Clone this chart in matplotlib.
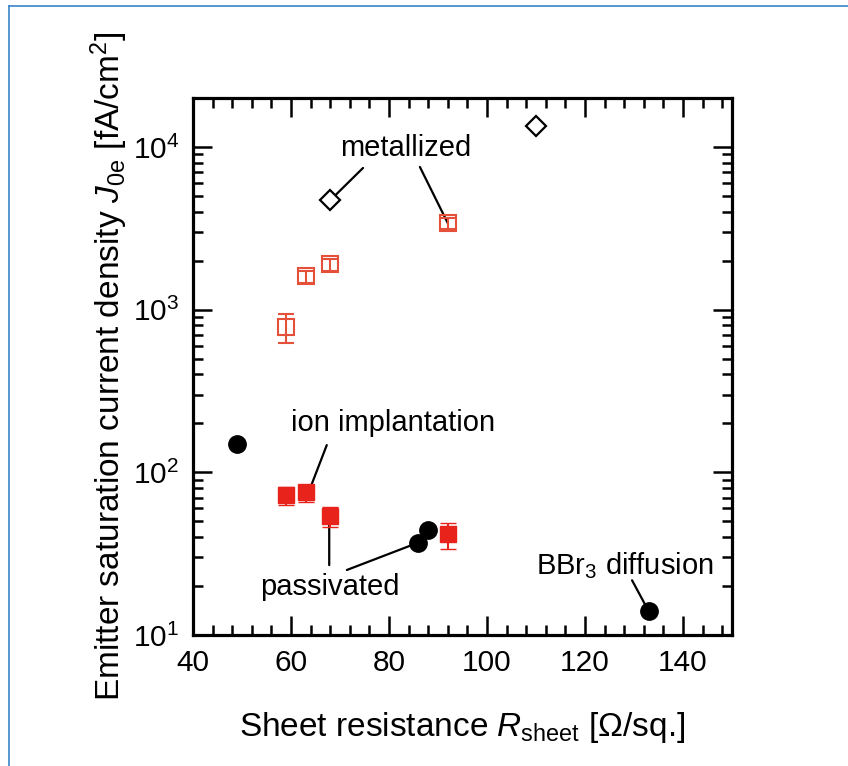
import matplotlib
matplotlib.use("Agg")
import matplotlib.pyplot as plt
from matplotlib.lines import Line2D
from matplotlib.ticker import FixedLocator, MultipleLocator, LogLocator, NullFormatter

plt.rcParams['font.family'] = ['Liberation Sans', 'DejaVu Sans']
plt.rcParams['mathtext.fontset'] = 'custom'
plt.rcParams['mathtext.rm'] = 'Liberation Sans'
plt.rcParams['mathtext.it'] = 'Liberation Sans:italic'
plt.rcParams['mathtext.bf'] = 'Liberation Sans:bold'

# ---- data ----
# BBr3 diffusion (black filled circles), passivated
bbr3_x = [49, 86, 88, 133]
bbr3_y = [150, 37, 44, 14]

# ion implantation, passivated (red filled squares)
imp_pass_x = [59, 63, 68, 92]
imp_pass_y = [73, 76, 54, 42]
imp_pass_err_lo = [10, 10, 8, 8]
imp_pass_err_hi = [8, 6, 7, 7]

# ion implantation, metallized (red open squares)
imp_met_x = [59, 63, 68, 92]
imp_met_y = [780, 1600, 1900, 3400]
imp_met_err_lo = [160, 140, 160, 280]
imp_met_err_hi = [165, 140, 160, 280]

# BBr3 diffusion, metallized (black open diamonds)
bbr3_met_x = [68, 110]
bbr3_met_y = [4700, 13500]

x_ticks = [40, 60, 80, 100, 120, 140]
y_ticks = [10, 100, 1000, 10000]
y_ticklabels = ['$10^1$', '$10^2$', '$10^3$', '$10^4$']

RED = '#e8231c'
RED_OPEN = '#e4503a'

fig = plt.figure(figsize=(8.48, 7.66), dpi=100)
ax = fig.add_axes([193/848, 1-635/766, (732-193)/848, (635-98)/766])

ax.set_xscale('linear')
ax.set_yscale('log')
ax.set_xlim(40, 150)
ax.set_ylim(10, 2e4)

# annotation lines (drawn under markers)
def line(p_from, p_to):
    ax.annotate('', xy=p_to, xytext=p_from,
                arrowprops=dict(arrowstyle='-', color='black', lw=1.6,
                                shrinkA=0, shrinkB=0), zorder=1)

line((74.7, 7430), (bbr3_met_x[0], bbr3_met_y[0]))
line((86.3, 7540), (imp_met_x[3], imp_met_y[3]))
line((67.3, 147), (imp_pass_x[1] + 0.8, imp_pass_y[1] * 1.03))
line((67.8, 26.9), (imp_pass_x[2] - 0.2, imp_pass_y[2]))
line((71.4, 25.1), (bbr3_x[1], bbr3_y[1]))
line((129.6, 21.7), (bbr3_x[3], bbr3_y[3]))

# data
ax.errorbar(imp_met_x, imp_met_y, yerr=[imp_met_err_lo, imp_met_err_hi],
            fmt='s', ms=11.5, mfc='none', mec=RED_OPEN, mew=1.5,
            ecolor=RED_OPEN, elinewidth=1.5, capsize=6, capthick=1.5, zorder=3)
ax.errorbar(imp_pass_x, imp_pass_y, yerr=[imp_pass_err_lo, imp_pass_err_hi],
            fmt='s', ms=11.5, mfc=RED, mec=RED, mew=1.0,
            ecolor=RED, elinewidth=1.5, capsize=6, capthick=1.5, zorder=3)
ax.plot(bbr3_x, bbr3_y, 'o', ms=12.5, color='black', ls='none', zorder=4)
ax.plot(bbr3_met_x, bbr3_met_y, 'D', ms=10.5, mfc='white', mec='black', mew=1.6,
        ls='none', zorder=4)

# text labels
fs_ann = 21
def ptext(px, py, s):
    fig.text(px / 848, 1 - py / 766, s, fontsize=fs_ann, ha='center', va='center')
ptext(406, 148, 'metallized')
ptext(393, 423, 'ion implantation')
ptext(330, 587, 'passivated')
ptext(625, 566, 'BBr$_3$ diffusion')

# ticks
ax.xaxis.set_major_locator(FixedLocator(x_ticks))
ax.xaxis.set_minor_locator(MultipleLocator(4))
ax.yaxis.set_major_locator(FixedLocator(y_ticks))
ax.set_yticklabels(y_ticklabels)
ax.yaxis.set_minor_locator(LogLocator(base=10, subs=range(2, 10), numticks=20))
ax.yaxis.set_minor_formatter(NullFormatter())

ax.tick_params(which='both', direction='in', top=True, right=True, width=1.8)
ax.tick_params(which='major', length=14, labelsize=21.5, pad=10)
ax.tick_params(which='minor', length=7)
for s in ax.spines.values():
    s.set_linewidth(2.3)

ax.set_xlabel(r'Sheet resistance $R_{\rm sheet}$ [$\Omega$/sq.]', fontsize=24, labelpad=24)
ax.set_ylabel(r'Emitter saturation current density $J_{\rm 0e}$ [fA/cm$^2$]',
              fontsize=24, labelpad=2)

# thin blue frame (top and left)
fig.add_artist(Line2D([9/848, 1], [1 - 6/766, 1 - 6/766], transform=fig.transFigure,
                      color='#3a86c8', lw=1.2))
fig.add_artist(Line2D([9/848, 9/848], [0, 1 - 6/766], transform=fig.transFigure,
                      color='#3a86c8', lw=1.2))

fig.savefig('out.png', dpi=100)
